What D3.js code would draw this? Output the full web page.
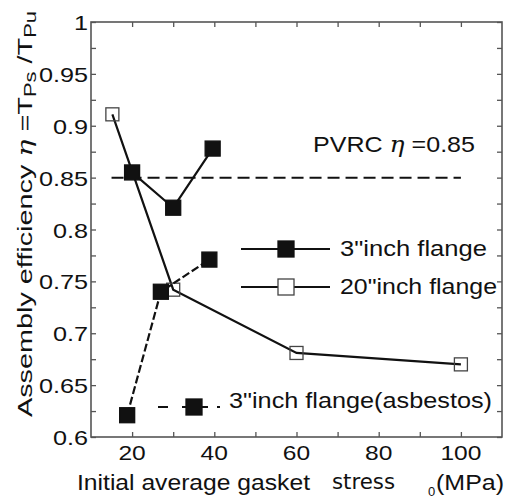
<!DOCTYPE html>
<html>
<head>
<meta charset="utf-8">
<script src="https://cdn.jsdelivr.net/npm/d3@7"></script>
<style>
  body { margin: 0; background: #fff; }
  text { font-family: "Liberation Sans", Arial, sans-serif; fill: #111; }
</style>
</head>
<body>
<script>
var svgWidth = 507;
var svgHeight = 499;

var Margin = { top: 22, right: 5, bottom: 62, left: 91 };
var Width = svgWidth - Margin.left - Margin.right;
var Height = svgHeight - Margin.top - Margin.bottom;

// data
var flange3X = [20, 30, 39.6];
var flange3Y = [0.855, 0.821, 0.878];
var flange20X = [15.2, 30, 60, 100];
var flange20Y = [0.911, 0.742, 0.681, 0.670];
var asbestosX = [18.8, 27, 38.8];
var asbestosY = [0.621, 0.740, 0.771];
var pvrcValue = 0.85;
var pvrcRange = [15, 100];
var xTickLabels = [20, 40, 60, 80, 100];
var yTickLabels = [0.6, 0.65, 0.7, 0.75, 0.8, 0.85, 0.9, 0.95, 1];

var svg = d3.select("body").append("svg")
  .attr("width", svgWidth)
  .attr("height", svgHeight);

var chartGroup = svg.append("g")
  .attr("transform", `translate(${Margin.left}, ${Margin.top})`);

var xScale = d3.scaleLinear().domain([10, 110]).range([0, Width]);
var yScale = d3.scaleLinear().domain([0.6, 1]).range([Height, 0]);

var minorX = d3.range(20, 110, 10);
var minorY = d3.range(0.6, 1.0001, 0.025);

// the original's lettering is a bit wider than Liberation Sans
function widen(sel, k) {
  sel.each(function() {
    var w = this.getComputedTextLength();
    d3.select(this).attr("textLength", w * k).attr("lengthAdjust", "spacingAndGlyphs");
  });
}

// frame + inward ticks
function tickAxis(axis, ticks, tf) {
  var g = chartGroup.append("g").attr("transform", tf).call(axis.tickValues(ticks).tickSize(-5).tickFormat(""));
  g.select(".domain").remove();
  g.selectAll("line").attr("stroke", "#555").attr("stroke-width", 1.3);
}
tickAxis(d3.axisBottom(xScale), minorX, `translate(0, ${Height})`);
tickAxis(d3.axisTop(xScale), minorX, "translate(0,0)");
tickAxis(d3.axisLeft(yScale), minorY, "translate(0,0)");
tickAxis(d3.axisRight(yScale), minorY, `translate(${Width},0)`);

chartGroup.append("rect")
  .attr("width", Width).attr("height", Height)
  .attr("fill", "none").attr("stroke", "#555").attr("stroke-width", 1.6);

// tick labels
chartGroup.append("g").selectAll("text")
  .data(xTickLabels).enter().append("text")
  .attr("x", d => xScale(d)).attr("y", Height + 23)
  .attr("text-anchor", "middle").style("font-size", "21px")
  .text(d => d)
  .call(widen, 1.17);

chartGroup.append("g").selectAll("text")
  .data(yTickLabels).enter().append("text")
  .attr("x", -3).attr("y", d => yScale(d) + 8)
  .attr("text-anchor", "end").style("font-size", "21px")
  .text(d => d)
  .call(widen, 1.2);

// PVRC reference line
chartGroup.append("line")
  .attr("x1", xScale(pvrcRange[0])).attr("x2", xScale(pvrcRange[1]))
  .attr("y1", yScale(pvrcValue)).attr("y2", yScale(pvrcValue))
  .attr("stroke", "#111").attr("stroke-width", 2)
  .attr("stroke-dasharray", "12,6");

svg.append("text")
  .attr("x", 313).attr("y", 152).style("font-size", "22px")
  .attr("textLength", 162).attr("lengthAdjust", "spacingAndGlyphs")
  .html('PVRC  <tspan style="font-style:italic;font-family:DejaVu Serif">η</tspan> =' + pvrcValue);

var line = d3.line().x(d => xScale(d[0])).y(d => yScale(d[1]));

function series(xs, ys, dash, filled, size) {
  var pts = d3.zip(xs, ys);
  chartGroup.append("path")
    .datum(pts)
    .attr("d", line)
    .attr("fill", "none").attr("stroke", "#111").attr("stroke-width", 2.2)
    .attr("stroke-dasharray", dash);
  chartGroup.selectAll(null).data(pts).enter().append("rect")
    .attr("x", d => xScale(d[0]) - size / 2)
    .attr("y", d => yScale(d[1]) - size / 2)
    .attr("width", size).attr("height", size)
    .attr("fill", filled ? "#111" : "none")
    .attr("stroke", filled ? "#111" : "#444").attr("stroke-width", 1.3);
}

series(flange20X, flange20Y, null, false, 13);
series(asbestosX, asbestosY, "8,3", true, 15);
series(flange3X, flange3Y, null, true, 15);

// legend
var legend = svg.append("g");
function legendItem(x1, x2, y, cx, dash, filled, label, tx, ty, tw) {
  legend.append("line").attr("x1", x1).attr("x2", x2).attr("y1", y).attr("y2", y)
    .attr("stroke", "#111").attr("stroke-width", 2.2).attr("stroke-dasharray", dash);
  legend.append("rect").attr("x", cx - 8).attr("y", y - 8).attr("width", 16).attr("height", 16)
    .attr("fill", filled ? "#111" : "#fff").attr("stroke", filled ? "#111" : "#444").attr("stroke-width", 1.3);
  legend.append("text").attr("x", tx).attr("y", ty).style("font-size", "22px")
    .attr("textLength", tw).attr("lengthAdjust", "spacingAndGlyphs").text(label);
}
legendItem(241, 330, 249, 286, null, true, "3\"inch flange", 340, 256, 147);
legendItem(241, 330, 287, 286, null, false, "20\"inch flange", 340, 294, 157);
legendItem(158, 220, 407, 194, "10,14,26,9,3,30", true, "3\"inch flange(asbestos)", 229, 408, 263);

// axis titles
svg.append("text").attr("x", 77).attr("y", 490).style("font-size", "22px")
  .attr("textLength", 233).attr("lengthAdjust", "spacingAndGlyphs")
  .text("Initial average gasket");
svg.append("text").attr("x", 332).attr("y", 489).style("font-size", "21px")
  .style("font-family", "DejaVu Sans Condensed")
  .attr("textLength", 63).attr("lengthAdjust", "spacingAndGlyphs")
  .text("stress");
svg.append("text").attr("x", 428).attr("y", 496).style("font-size", "13px").text("0");
svg.append("text").attr("x", 436).attr("y", 490).style("font-size", "22px")
  .attr("textLength", 68).attr("lengthAdjust", "spacingAndGlyphs")
  .text("(MPa)");

var yt = svg.append("text")
  .attr("transform", "translate(32, 214) rotate(-90)")
  .attr("text-anchor", "middle").style("font-size", "21px")
  .attr("textLength", 406).attr("lengthAdjust", "spacingAndGlyphs");
yt.append("tspan").text("Assembly efficiency  ");
yt.append("tspan").style("font-style", "italic").style("font-family", "DejaVu Serif").text("η");
yt.append("tspan").text(" =T");
yt.append("tspan").attr("dy", 4).style("font-size", "16px").text("Ps");
yt.append("tspan").attr("dy", -4).text(" /T");
yt.append("tspan").attr("dy", 4).style("font-size", "16px").text("Pu");
</script>
</body>
</html>
